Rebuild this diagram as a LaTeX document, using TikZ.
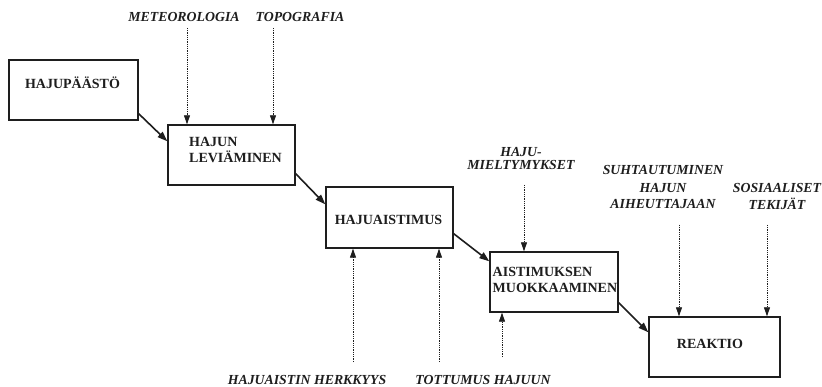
\documentclass[tikz,border=0pt]{standalone}
\usepackage{fontspec}
\setmainfont{Liberation Serif}
\usetikzlibrary{arrows.meta,calc}
\definecolor{ink}{HTML}{1E1E1E}
\begin{document}
\begin{tikzpicture}[x=1pt,y=-1pt,
  box/.style={draw=ink, line width=1.4pt, minimum width=#1, minimum height=60pt, inner sep=0pt},
  boxtext/.style={text=ink, font=\fontsize{14}{15.5}\selectfont\bfseries, inner sep=0pt, align=left},
  lbl/.style={text=ink, font=\fontsize{13.8}{17}\selectfont\bfseries\itshape, inner sep=0pt, align=center},
  flow/.style={draw=ink, line width=1.6pt, -{Triangle[length=10pt,width=7pt]}},
  infl/.style={draw=ink, line width=0.8pt, densely dotted, -{Triangle[length=9pt,width=6pt]}}]
\useasboundingbox[fill=white] (0,0) rectangle (822,387);

% boxes
\node[box=129pt] (a) at (73.5,90) {};
\node[box=127pt] (b) at (231.5,155) {};
\node[box=127pt, minimum height=61pt] (c) at (389.5,217.5) {};
\node[box=128pt] (d) at (554,282) {};
\node[box=131pt] (e) at (714.5,347) {};

\node[boxtext] (at) at (72.5,83) {HAJUPÄÄSTÖ};
\node[boxtext, anchor=west] (bt) at (189,150) {HAJUN\\LEVIÄMINEN};
\node[boxtext] (ct) at (388.5,220) {HAJUAISTIMUS};
\node[boxtext, anchor=west] (dt) at (492.5,280) {AISTIMUKSEN\\MUOKKAAMINEN};
\node[boxtext] (et) at (710,344) {REAKTIO};

% main flow
\draw[flow] ([yshift=7pt]a.south east) -- ([yshift=-17pt]b.north west);
\draw[flow] ([yshift=12pt]b.south east) -- ([yshift=-18pt]c.north west);
\draw[flow] ([yshift=15pt]c.south east) -- ([yshift=-10pt]d.north west);
\draw[flow] ([yshift=10pt]d.south east) -- ([yshift=-16pt]e.north west);

% labels
\node[lbl] (l1) at (184,17) {METEOROLOGIA};
\node[lbl] (l2) at (300,17) {TOPOGRAFIA};
\node[lbl, font=\fontsize{13.8}{13}\selectfont\bfseries\itshape] (l3) at (521,158.5) {HAJU-\\MIELTYMYKSET};
\node[lbl] (l4) at (663,187.5) {SUHTAUTUMINEN\\HAJUN\\AIHEUTTAJAAN};
\node[lbl] (l5) at (777,196.5) {SOSIAALISET\\TEKIJÄT};
\node[lbl] (l6) at (307,380) {HAJUAISTIN HERKKYYS};
\node[lbl] (l7) at (483,380) {TOTTUMUS HAJUUN};

% influence arrows
\coordinate (s1) at (187,28);
\coordinate (s2) at (273,28);
\coordinate (s3) at (524,185);
\coordinate (s4) at (679,225);
\coordinate (s5) at (767,225);
\coordinate (s6) at (353,362);
\coordinate (s7) at (439,362);
\coordinate (s8) at (502,357);
\draw[infl] (s1) -- (s1 |- b.north);
\draw[infl] (s2) -- (s2 |- b.north);
\draw[infl] (s3) -- (s3 |- d.north);
\draw[infl] (s4) -- (s4 |- e.north);
\draw[infl] (s5) -- (s5 |- e.north);
\draw[infl] (s6) -- (s6 |- c.south);
\draw[infl] (s7) -- (s7 |- c.south);
\draw[infl] (s8) -- (s8 |- d.south);
\end{tikzpicture}
\end{document}
